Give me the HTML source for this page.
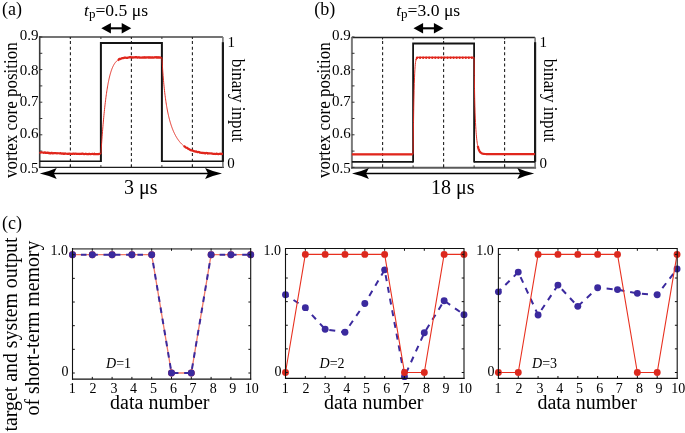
<!DOCTYPE html>
<html><head><meta charset="utf-8"><style>
html,body{margin:0;padding:0;background:#fff;width:685px;height:433px;overflow:hidden}
svg{display:block;will-change:transform}
text{fill:#000}
</style></head><body>
<svg width="685" height="433" viewBox="0 0 685 433">
<rect width="685" height="433" fill="#fff"/>
<path d="M39.7 37.0 H222.9" stroke="#747474" stroke-width="1.9" fill="none"/>
<path d="M39.7 36.1 V168.1" stroke="#3a3a3a" stroke-width="1.6" fill="none"/>
<path d="M39.0 167.4 H223.9" stroke="#1e1e1e" stroke-width="1.4" fill="none"/>
<path d="M222.9 37.0 V167.4" stroke="#777" stroke-width="1.6" fill="none"/>
<path d="M222.9 42.2 V161.8" stroke="#1a1a1a" stroke-width="2.2" fill="none"/>
<path d="M39.7 37.00 h2.6" stroke="#333" stroke-width="1"/>
<path d="M39.7 53.30 h2.6" stroke="#333" stroke-width="1"/>
<path d="M39.7 69.60 h2.6" stroke="#333" stroke-width="1"/>
<path d="M39.7 85.90 h2.6" stroke="#333" stroke-width="1"/>
<path d="M39.7 102.20 h2.6" stroke="#333" stroke-width="1"/>
<path d="M39.7 118.50 h2.6" stroke="#333" stroke-width="1"/>
<path d="M39.7 134.80 h2.6" stroke="#333" stroke-width="1"/>
<path d="M39.7 151.10 h2.6" stroke="#333" stroke-width="1"/>
<path d="M39.7 167.40 h2.6" stroke="#333" stroke-width="1"/>
<path d="M70.3 37.0 v2 M70.3 167.4 v-2.3" stroke="#333" stroke-width="1"/>
<path d="M100.9 37.0 v2 M100.9 167.4 v-2.3" stroke="#333" stroke-width="1"/>
<path d="M131.4 37.0 v2 M131.4 167.4 v-2.3" stroke="#333" stroke-width="1"/>
<path d="M161.9 37.0 v2 M161.9 167.4 v-2.3" stroke="#333" stroke-width="1"/>
<path d="M192.4 37.0 v2 M192.4 167.4 v-2.3" stroke="#333" stroke-width="1"/>
<path d="M70.4 37.0 V167.4" stroke="#222" stroke-width="1.1" stroke-dasharray="3 2.6" stroke-dashoffset="1.50"/>
<path d="M131.4 37.0 V167.4" stroke="#222" stroke-width="1.1" stroke-dasharray="3 2.6" stroke-dashoffset="1.50"/>
<path d="M192.4 37.0 V167.4" stroke="#222" stroke-width="1.1" stroke-dasharray="3 2.6" stroke-dashoffset="1.50"/>
<path d="M39.7 161.3 H100.9" stroke="#141414" stroke-width="1.6" fill="none"/>
<path d="M161.9 161.3 H222.9" stroke="#141414" stroke-width="1.6" fill="none"/>
<path d="M100.9 161.9 V43.0 H161.9 V161.9" stroke="#141414" stroke-width="2" fill="none" stroke-linejoin="miter"/>
<path d="M39.70 152.30 L40.70 152.39 L41.70 152.47 L42.70 152.55 L43.70 152.63 L44.70 152.70 L45.70 152.77 L46.70 152.83 L47.70 152.89 L48.70 152.95 L49.70 153.01 L50.70 153.06 L51.70 153.11 L52.70 153.16 L53.70 153.21 L54.70 153.25 L55.70 153.29 L56.70 153.33 L57.70 153.37 L58.70 153.40 L59.70 153.44 L60.70 153.47 L61.70 153.50 L62.70 153.53 L63.70 153.56 L64.70 153.58 L65.70 153.61 L66.70 153.63 L67.70 153.66 L68.70 153.68 L69.70 153.70 L70.70 153.72 L71.70 153.74 L72.70 153.75 L73.70 153.77 L74.70 153.79 L75.70 153.80 L76.70 153.82 L77.70 153.83 L78.70 153.84 L79.70 153.86 L80.70 153.87 L81.70 153.88 L82.70 153.89 L83.70 153.90 L84.70 153.91 L85.70 153.92 L86.70 153.93 L87.70 153.94 L88.70 153.94 L89.70 153.95 L90.70 153.96 L91.70 153.97 L92.70 153.97 L93.70 153.98 L94.70 153.98 L95.70 153.99 L96.70 154.00 L97.70 154.00 L98.70 154.01 L99.70 154.01 L100.70 154.01 L100.90 154.02 L100.90 154.02 L101.10 150.96 L101.30 147.98 L101.50 145.08 L101.70 142.24 L101.90 139.48 L102.10 136.79 L102.30 134.17 L102.50 131.62 L102.70 129.14 L102.90 126.72 L103.10 124.37 L103.30 122.08 L103.50 119.86 L103.70 117.69 L103.90 115.59 L104.10 113.55 L104.30 111.57 L104.50 109.64 L104.70 107.77 L104.90 105.96 L105.10 104.20 L105.30 102.49 L105.50 100.83 L105.70 99.23 L105.90 97.68 L106.10 96.17 L106.30 94.71 L106.50 93.30 L106.70 91.93 L106.90 90.61 L107.10 89.33 L107.30 88.09 L107.50 86.89 L107.70 85.73 L107.90 84.61 L108.10 83.53 L108.30 82.49 L108.50 81.48 L108.70 80.51 L108.90 79.57 L109.10 78.66 L109.30 77.79 L109.50 76.95 L109.70 76.14 L109.90 75.35 L110.10 74.60 L110.30 73.87 L110.50 73.17 L110.70 72.50 L110.90 71.85 L111.10 71.23 L111.30 70.63 L111.50 70.05 L111.70 69.50 L111.90 68.96 L112.10 68.45 L112.30 67.96 L112.50 67.49 L112.70 67.03 L112.90 66.60 L113.10 66.18 L113.30 65.78 L113.50 65.39 L113.70 65.02 L113.90 64.67 L114.10 64.33 L114.30 64.01 L114.50 63.70 L114.70 63.40 L114.90 63.11 L115.10 62.84 L115.30 62.58 L115.50 62.33 L115.70 62.09 L115.90 61.86 L116.10 61.64 L116.30 61.44 L116.50 61.24 L116.70 61.05 L116.90 60.87 L117.10 60.69 L117.30 60.53 L117.50 60.37 L117.70 60.22 L117.90 60.07 L118.10 59.94 L118.30 59.81 L118.50 59.68 L118.70 59.56 L118.90 59.45 L119.10 59.34 L119.30 59.24 L119.50 59.15 L119.70 59.05 L119.90 58.96 L120.10 58.88 L120.30 58.80 L120.50 58.73 L120.70 58.65 L120.90 58.59 L121.10 58.52 L121.30 58.46 L121.50 58.40 L121.70 58.35 L121.90 58.29 L122.10 58.24 L122.30 58.20 L122.50 58.15 L122.70 58.11 L122.90 58.07 L123.10 58.03 L123.30 58.00 L123.50 57.96 L123.70 57.93 L123.90 57.90 L124.10 57.87 L124.30 57.84 L124.50 57.82 L124.70 57.79 L124.90 57.77 L125.10 57.75 L125.30 57.73 L125.50 57.71 L125.70 57.69 L125.90 57.67 L126.10 57.66 L126.30 57.64 L126.50 57.63 L126.70 57.61 L126.90 57.60 L127.10 57.59 L127.30 57.57 L127.50 57.56 L127.70 57.55 L127.90 57.54 L128.10 57.54 L128.30 57.53 L128.50 57.52 L128.70 57.51 L128.90 57.50 L129.10 57.50 L129.30 57.49 L129.50 57.49 L129.70 57.48 L129.90 57.47 L130.10 57.47 L130.30 57.47 L130.50 57.46 L130.70 57.46 L130.90 57.45 L131.10 57.45 L131.30 57.45 L131.50 57.44 L131.70 57.44 L131.90 57.44 L132.10 57.44 L132.30 57.43 L132.50 57.43 L132.70 57.43 L132.90 57.43 L133.10 57.42 L133.30 57.42 L133.50 57.42 L133.70 57.42 L133.90 57.42 L134.10 57.42 L134.30 57.42 L134.50 57.42 L134.70 57.41 L134.90 57.41 L135.10 57.41 L135.30 57.41 L135.50 57.41 L135.70 57.41 L135.90 57.41 L136.10 57.41 L136.30 57.41 L136.50 57.41 L136.70 57.41 L136.90 57.41 L137.10 57.41 L137.30 57.41 L137.50 57.40 L137.70 57.40 L137.90 57.40 L138.10 57.40 L138.30 57.40 L138.50 57.40 L138.70 57.40 L138.90 57.40 L139.10 57.40 L139.30 57.40 L139.50 57.40 L139.70 57.40 L139.90 57.40 L140.10 57.40 L140.30 57.40 L140.50 57.40 L140.70 57.40 L140.90 57.40 L141.10 57.40 L141.30 57.40 L141.50 57.40 L141.70 57.40 L141.90 57.40 L142.10 57.40 L142.30 57.40 L142.50 57.40 L142.70 57.40 L142.90 57.40 L143.10 57.40 L143.30 57.40 L143.50 57.40 L143.70 57.40 L143.90 57.40 L144.10 57.40 L144.30 57.40 L144.50 57.40 L144.70 57.40 L144.90 57.40 L145.10 57.40 L145.30 57.40 L145.50 57.40 L145.70 57.40 L145.90 57.40 L146.10 57.40 L146.30 57.40 L146.50 57.40 L146.70 57.40 L146.90 57.40 L147.10 57.40 L147.30 57.40 L147.50 57.40 L147.70 57.40 L147.90 57.40 L148.10 57.40 L148.30 57.40 L148.50 57.40 L148.70 57.40 L148.90 57.40 L149.10 57.40 L149.30 57.40 L149.50 57.40 L149.70 57.40 L149.90 57.40 L150.10 57.40 L150.30 57.40 L150.50 57.40 L150.70 57.40 L150.90 57.40 L151.10 57.40 L151.30 57.40 L151.50 57.40 L151.70 57.40 L151.90 57.40 L152.10 57.40 L152.30 57.40 L152.50 57.40 L152.70 57.40 L152.90 57.40 L153.10 57.40 L153.30 57.40 L153.50 57.40 L153.70 57.40 L153.90 57.40 L154.10 57.40 L154.30 57.40 L154.50 57.40 L154.70 57.40 L154.90 57.40 L155.10 57.40 L155.30 57.40 L155.50 57.40 L155.70 57.40 L155.90 57.40 L156.10 57.40 L156.30 57.40 L156.50 57.40 L156.70 57.40 L156.90 57.40 L157.10 57.40 L157.30 57.40 L157.50 57.40 L157.70 57.40 L157.90 57.40 L158.10 57.40 L158.30 57.40 L158.50 57.40 L158.70 57.40 L158.90 57.40 L159.10 57.40 L159.30 57.40 L159.50 57.40 L159.70 57.40 L159.90 57.40 L160.10 57.40 L160.30 57.40 L160.50 57.40 L160.70 57.40 L160.90 57.40 L161.10 57.40 L161.30 57.40 L161.50 57.40 L161.70 57.40 L161.90 57.40 L161.90 57.40 L161.90 57.40 L162.10 60.86 L162.30 64.12 L162.50 67.21 L162.70 70.13 L162.90 72.89 L163.10 75.52 L163.30 78.01 L163.50 80.37 L163.70 82.62 L163.90 84.76 L164.10 86.80 L164.30 88.75 L164.50 90.60 L164.70 92.38 L164.90 94.08 L165.10 95.70 L165.30 97.26 L165.50 98.75 L165.70 100.18 L165.90 101.56 L166.10 102.89 L166.30 104.16 L166.50 105.39 L166.70 106.57 L166.90 107.71 L167.10 108.82 L167.30 109.88 L167.50 110.91 L167.70 111.91 L167.90 112.87 L168.10 113.81 L168.30 114.71 L168.50 115.59 L168.70 116.44 L168.90 117.27 L169.10 118.07 L169.30 118.85 L169.50 119.61 L169.70 120.35 L169.90 121.07 L170.10 121.77 L170.30 122.45 L170.50 123.12 L170.70 123.77 L170.90 124.40 L171.10 125.01 L171.30 125.61 L171.50 126.20 L171.70 126.77 L171.90 127.33 L172.10 127.88 L172.30 128.41 L172.50 128.93 L172.70 129.44 L172.90 129.93 L173.10 130.42 L173.30 130.90 L173.50 131.36 L173.70 131.82 L173.90 132.26 L174.10 132.70 L174.30 133.12 L174.50 133.54 L174.70 133.95 L174.90 134.35 L175.10 134.74 L175.30 135.12 L175.50 135.50 L175.70 135.86 L175.90 136.22 L176.10 136.57 L176.30 136.92 L176.50 137.26 L176.70 137.59 L176.90 137.91 L177.10 138.23 L177.30 138.54 L177.50 138.85 L177.70 139.14 L177.90 139.44 L178.10 139.72 L178.30 140.01 L178.50 140.28 L178.70 140.55 L178.90 140.82 L179.10 141.08 L179.30 141.33 L179.50 141.58 L179.70 141.82 L179.90 142.06 L180.10 142.30 L180.30 142.53 L180.50 142.75 L180.70 142.97 L180.90 143.19 L181.10 143.40 L181.30 143.61 L181.50 143.82 L181.70 144.02 L181.90 144.21 L182.10 144.40 L182.30 144.59 L182.50 144.78 L182.70 144.96 L182.90 145.14 L183.10 145.31 L183.30 145.48 L183.50 145.65 L183.70 145.81 L183.90 145.98 L184.10 146.13 L184.30 146.29 L184.50 146.44 L184.70 146.59 L184.90 146.73 L185.10 146.88 L185.30 147.02 L185.50 147.16 L185.70 147.29 L185.90 147.42 L186.10 147.55 L186.30 147.68 L186.50 147.80 L186.70 147.93 L186.90 148.05 L187.10 148.16 L187.30 148.28 L187.50 148.39 L187.70 148.50 L187.90 148.61 L188.10 148.72 L188.30 148.82 L188.50 148.93 L188.70 149.03 L188.90 149.12 L189.10 149.22 L189.30 149.32 L189.50 149.41 L189.70 149.50 L189.90 149.59 L190.10 149.68 L190.30 149.76 L190.50 149.85 L190.70 149.93 L190.90 150.01 L191.10 150.09 L191.30 150.17 L191.50 150.24 L191.70 150.32 L191.90 150.39 L192.10 150.46 L192.30 150.54 L192.50 150.60 L192.70 150.67 L192.90 150.74 L193.10 150.80 L193.30 150.87 L193.50 150.93 L193.70 150.99 L193.90 151.05 L194.10 151.11 L194.30 151.17 L194.50 151.23 L194.70 151.28 L194.90 151.34 L195.10 151.39 L195.30 151.44 L195.50 151.50 L195.70 151.55 L195.90 151.60 L196.10 151.64 L196.30 151.69 L196.50 151.74 L196.70 151.78 L196.90 151.83 L197.10 151.87 L197.30 151.92 L197.50 151.96 L197.70 152.00 L197.90 152.04 L198.10 152.08 L198.30 152.12 L198.50 152.16 L198.70 152.20 L198.90 152.23 L199.10 152.27 L199.30 152.31 L199.50 152.34 L199.70 152.37 L199.90 152.41 L200.10 152.44 L200.30 152.47 L200.50 152.50 L200.70 152.54 L200.90 152.57 L201.10 152.60 L201.30 152.62 L201.50 152.65 L201.70 152.68 L201.90 152.71 L202.10 152.74 L202.30 152.76 L202.50 152.79 L202.70 152.81 L202.90 152.84 L203.10 152.86 L203.30 152.89 L203.50 152.91 L203.70 152.93 L203.90 152.96 L204.10 152.98 L204.30 153.00 L204.50 153.02 L204.70 153.04 L204.90 153.06 L205.10 153.08 L205.30 153.10 L205.50 153.12 L205.70 153.14 L205.90 153.16 L206.10 153.18 L206.30 153.20 L206.50 153.21 L206.70 153.23 L206.90 153.25 L207.10 153.26 L207.30 153.28 L207.50 153.30 L207.70 153.31 L207.90 153.33 L208.10 153.34 L208.30 153.36 L208.50 153.37 L208.70 153.39 L208.90 153.40 L209.10 153.41 L209.30 153.43 L209.50 153.44 L209.70 153.45 L209.90 153.47 L210.10 153.48 L210.30 153.49 L210.50 153.50 L210.70 153.51 L210.90 153.52 L211.10 153.54 L211.30 153.55 L211.50 153.56 L211.70 153.57 L211.90 153.58 L212.10 153.59 L212.30 153.60 L212.50 153.61 L212.70 153.62 L212.90 153.63 L213.10 153.64 L213.30 153.65 L213.50 153.65 L213.70 153.66 L213.90 153.67 L214.10 153.68 L214.30 153.69 L214.50 153.70 L214.70 153.70 L214.90 153.71 L215.10 153.72 L215.30 153.73 L215.50 153.73 L215.70 153.74 L215.90 153.75 L216.10 153.75 L216.30 153.76 L216.50 153.77 L216.70 153.77 L216.90 153.78 L217.10 153.79 L217.30 153.79 L217.50 153.80 L217.70 153.80 L217.90 153.81 L218.10 153.82 L218.30 153.82 L218.50 153.83 L218.70 153.83 L218.90 153.84 L219.10 153.84 L219.30 153.85 L219.50 153.85 L219.70 153.86 L219.90 153.86 L220.10 153.87 L220.30 153.87 L220.50 153.88 L220.70 153.88 L220.90 153.88 L221.10 153.89 L221.30 153.89 L221.50 153.90 L221.70 153.90 L221.90 153.90 L222.10 153.91 L222.30 153.91 L222.50 153.92 L222.70 153.92 L222.90 153.92 L222.90 153.92" stroke="#e0261c" stroke-width="0.95" fill="none" stroke-linejoin="round"/>
<path d="M39.70 152.08 L40.30 152.56 L40.90 152.56 L41.50 152.31 L42.10 152.50 L42.70 152.52 L43.30 152.69 L43.90 152.81 L44.50 152.44 L45.10 152.44 L45.70 152.97 L46.30 152.77 L46.90 153.00 L47.50 152.58 L48.10 152.88 L48.70 153.09 L49.30 152.82 L49.90 153.29 L50.50 153.29 L51.10 152.80 L51.70 152.83 L52.30 153.17 L52.90 153.43 L53.50 153.13 L54.10 153.05 L54.70 153.20 L55.30 152.99 L55.90 153.13 L56.50 153.29 L57.10 153.34 L57.70 153.21 L58.30 153.23 L58.90 153.24 L59.50 153.41 L60.10 153.32 L60.70 153.18 L61.30 153.69 L61.90 153.54 L62.50 153.61 L63.10 153.35 L63.70 153.85 L64.30 153.79 L64.90 153.36 L65.50 153.50 L66.10 153.75 L66.70 153.76 L67.30 153.91 L67.90 153.61 L68.50 153.87 L69.10 153.79 L69.70 153.58 L70.30 153.76 L70.90 153.95 L71.50 153.94 L72.10 153.75 L72.70 153.81 L73.30 153.49 L73.90 153.62 L74.50 153.96 L75.10 153.74 L75.70 153.61 L76.30 153.84 L76.90 153.94 L77.50 153.93 L78.10 153.76 L78.70 153.81 L79.30 153.86 L79.90 154.03 L80.50 153.88 L81.10 153.81 L81.70 153.87 L82.30 153.60 L82.90 153.62 L83.50 154.02 L84.10 154.19 L84.70 153.97 L85.30 153.85 L85.90 153.72 L86.50 153.93 L87.10 154.22 L87.70 154.10 L88.30 153.97 L88.90 154.16 L89.50 153.79 L90.10 153.96 L90.70 154.23 L91.30 154.01 L91.90 153.94 L92.50 153.83 L93.10 154.00 L93.70 154.25 L94.30 153.69 L94.90 154.16 L95.50 154.18 L96.10 154.22 L96.70 154.14 L97.30 154.18 L97.90 154.01 L98.50 154.04 L99.10 153.96 L99.70 153.74 L100.30 154.24" stroke="#e0261c" stroke-width="2.2" fill="none" stroke-linejoin="round"/>
<path d="M117.90 60.35 L118.50 59.95 L119.10 59.08 L119.70 58.80 L120.30 59.00 L120.90 58.73 L121.50 58.50 L122.10 58.13 L122.70 58.17 L123.30 58.06 L123.90 57.95 L124.50 57.61 L125.10 57.71 L125.70 57.62 L126.30 57.77 L126.90 57.90 L127.50 57.83 L128.10 57.56 L128.70 57.48 L129.30 57.35 L129.90 57.20 L130.50 57.18 L131.10 57.43 L131.70 57.33 L132.30 57.36 L132.90 57.66 L133.50 57.44 L134.10 57.45 L134.70 57.26 L135.30 57.13 L135.90 57.30 L136.50 57.19 L137.10 57.41 L137.70 57.70 L138.30 57.51 L138.90 57.21 L139.50 57.64 L140.10 57.58 L140.70 57.54 L141.30 57.65 L141.90 57.56 L142.50 57.57 L143.10 57.31 L143.70 57.69 L144.30 57.68 L144.90 57.20 L145.50 57.55 L146.10 57.53 L146.70 57.38 L147.30 57.42 L147.90 57.39 L148.50 57.65 L149.10 57.40 L149.70 57.60 L150.30 57.31 L150.90 57.63 L151.50 57.64 L152.10 57.38 L152.70 57.44 L153.30 57.65 L153.90 57.53 L154.50 57.39 L155.10 57.23 L155.70 57.29 L156.30 57.52 L156.90 57.20 L157.50 57.64 L158.10 57.26 L158.70 57.65 L159.30 57.29 L159.90 57.67 L160.50 57.52 L161.10 57.40" stroke="#e0261c" stroke-width="2.3" fill="none" stroke-linejoin="round"/>
<path d="M183.90 145.82 L184.50 146.47 L185.10 146.80 L185.70 147.35 L186.30 147.76 L186.90 147.79 L187.50 148.10 L188.10 148.92 L188.70 148.88 L189.30 149.16 L189.90 149.89 L190.50 149.83 L191.10 150.29 L191.70 150.31 L192.30 150.62 L192.90 150.53 L193.50 151.01 L194.10 151.33 L194.70 151.30 L195.30 151.59 L195.90 151.70 L196.50 151.48 L197.10 152.03 L197.70 152.06 L198.30 152.00 L198.90 151.95 L199.50 152.56 L200.10 152.42 L200.70 152.67 L201.30 152.85 L201.90 152.84 L202.50 153.04 L203.10 152.80 L203.70 153.11 L204.30 152.97 L204.90 153.32 L205.50 153.35 L206.10 152.94 L206.70 153.01 L207.30 153.11 L207.90 153.61 L208.50 153.33 L209.10 153.49 L209.70 153.33 L210.30 153.49 L210.90 153.46 L211.50 153.47 L212.10 153.64 L212.70 153.67 L213.30 153.89 L213.90 153.78 L214.50 153.95 L215.10 153.93 L215.70 154.04 L216.30 153.86 L216.90 153.58 L217.50 154.02 L218.10 154.09 L218.70 154.07 L219.30 153.89 L219.90 153.99 L220.50 153.70 L221.10 154.09 L221.70 153.94 L222.30 153.78 L222.90 153.66" stroke="#e0261c" stroke-width="2.2" fill="none" stroke-linejoin="round"/>
<text x="38.6" y="40.4" font-size="15" text-anchor="end" font-family="Liberation Serif">0.9</text>
<text x="38.6" y="74.6" font-size="15" text-anchor="end" font-family="Liberation Serif">0.8</text>
<text x="38.6" y="105.6" font-size="15" text-anchor="end" font-family="Liberation Serif">0.7</text>
<text x="38.6" y="137.8" font-size="15" text-anchor="end" font-family="Liberation Serif">0.6</text>
<text x="38.6" y="173.4" font-size="15" text-anchor="end" font-family="Liberation Serif">0.5</text>
<text x="227.4" y="46.6" font-size="15" font-family="Liberation Serif">1</text>
<text x="227.2" y="167.6" font-size="15" font-family="Liberation Serif">0</text>
<text transform="translate(17.4 110.2) rotate(-90) scale(0.85 0.93)" text-anchor="middle" font-size="20" font-family="Liberation Serif">vortex core position</text>
<text transform="translate(231.6 100.4) rotate(90) scale(0.855 0.93)" text-anchor="middle" font-size="20" font-family="Liberation Serif">binary input</text>
<text x="2.0" y="15" font-size="18" font-family="Liberation Serif">(a)</text>
<text x="84.0" y="16.2" font-size="17.6" font-family="Liberation Serif"><tspan font-style="italic">t</tspan><tspan font-size="13" dy="2.0">p</tspan><tspan dy="-2.0">=0.5 μs</tspan></text>
<path d="M101.3 28.3 L110.89999999999999 23.0 V33.6 Z M131.3 28.3 L121.70000000000002 23.0 V33.6 Z" fill="#000"/>
<path d="M110.3 28.3 H122.30000000000001" stroke="#000" stroke-width="2.1"/>
<path d="M39.800000000000004 173.45 Q49.800000000000004 171.14999999999998 56.7 167.95 L53.800000000000004 173.45 L56.7 178.95 Q49.800000000000004 175.75 39.800000000000004 173.45 Z" fill="#000"/>
<path d="M222.0 173.45 Q212.0 171.14999999999998 205.1 167.95 L208.0 173.45 L205.1 178.95 Q212.0 175.75 222.0 173.45 Z" fill="#000"/>
<path d="M51.800000000000004 173.45 H210.0" stroke="#000" stroke-width="1.6"/>
<text x="124.0" y="194.1" font-size="20" font-family="Liberation Serif">3 μs</text>
<path d="M351.9 37.5 H535.1" stroke="#222" stroke-width="1.3" fill="none"/>
<path d="M351.9 36.9 V168.6" stroke="#7a7a7a" stroke-width="2" fill="none"/>
<path d="M351.0 167.7 H536.1" stroke="#5a5a5a" stroke-width="2" fill="none"/>
<path d="M535.1 37.5 V167.7" stroke="#777" stroke-width="1.6" fill="none"/>
<path d="M535.1 42.2 V161.8" stroke="#1a1a1a" stroke-width="2.2" fill="none"/>
<path d="M351.9 37.00 h2.6" stroke="#333" stroke-width="1"/>
<path d="M351.9 53.30 h2.6" stroke="#333" stroke-width="1"/>
<path d="M351.9 69.60 h2.6" stroke="#333" stroke-width="1"/>
<path d="M351.9 85.90 h2.6" stroke="#333" stroke-width="1"/>
<path d="M351.9 102.20 h2.6" stroke="#333" stroke-width="1"/>
<path d="M351.9 118.50 h2.6" stroke="#333" stroke-width="1"/>
<path d="M351.9 134.80 h2.6" stroke="#333" stroke-width="1"/>
<path d="M351.9 151.10 h2.6" stroke="#333" stroke-width="1"/>
<path d="M351.9 167.40 h2.6" stroke="#333" stroke-width="1"/>
<path d="M382.5 37.5 v2 M382.5 167.7 v-2.3" stroke="#333" stroke-width="1"/>
<path d="M413.1 37.5 v2 M413.1 167.7 v-2.3" stroke="#333" stroke-width="1"/>
<path d="M443.6 37.5 v2 M443.6 167.7 v-2.3" stroke="#333" stroke-width="1"/>
<path d="M474.1 37.5 v2 M474.1 167.7 v-2.3" stroke="#333" stroke-width="1"/>
<path d="M504.6 37.5 v2 M504.6 167.7 v-2.3" stroke="#333" stroke-width="1"/>
<path d="M382.6 37.5 V167.7" stroke="#222" stroke-width="1.1" stroke-dasharray="3 2.6" stroke-dashoffset="2.00"/>
<path d="M443.6 37.5 V167.7" stroke="#222" stroke-width="1.1" stroke-dasharray="3 2.6" stroke-dashoffset="2.00"/>
<path d="M504.6 37.5 V167.7" stroke="#222" stroke-width="1.1" stroke-dasharray="3 2.6" stroke-dashoffset="2.00"/>
<path d="M351.9 161.9 H413.1" stroke="#141414" stroke-width="1.6" fill="none"/>
<path d="M474.1 161.9 H535.1" stroke="#141414" stroke-width="1.6" fill="none"/>
<path d="M413.1 162.5 V43.5 H474.1 V162.5" stroke="#141414" stroke-width="1.8" fill="none" stroke-linejoin="miter"/>
<path d="M351.90 154.30 L352.90 154.30 L353.90 154.30 L354.90 154.30 L355.90 154.30 L356.90 154.30 L357.90 154.30 L358.90 154.30 L359.90 154.30 L360.90 154.30 L361.90 154.30 L362.90 154.30 L363.90 154.30 L364.90 154.30 L365.90 154.30 L366.90 154.30 L367.90 154.30 L368.90 154.30 L369.90 154.30 L370.90 154.30 L371.90 154.30 L372.90 154.30 L373.90 154.30 L374.90 154.30 L375.90 154.30 L376.90 154.30 L377.90 154.30 L378.90 154.30 L379.90 154.30 L380.90 154.30 L381.90 154.30 L382.90 154.30 L383.90 154.30 L384.90 154.30 L385.90 154.30 L386.90 154.30 L387.90 154.30 L388.90 154.30 L389.90 154.30 L390.90 154.30 L391.90 154.30 L392.90 154.30 L393.90 154.30 L394.90 154.30 L395.90 154.30 L396.90 154.30 L397.90 154.30 L398.90 154.30 L399.90 154.30 L400.90 154.30 L401.90 154.30 L402.90 154.30 L403.90 154.30 L404.90 154.30 L405.90 154.30 L406.90 154.30 L407.90 154.30 L408.90 154.30 L409.90 154.30 L410.90 154.30 L411.90 154.30 L412.90 154.30 L413.10 154.30 L413.10 154.30 L413.30 137.03 L413.50 122.27 L413.70 109.79 L413.90 99.35 L414.10 90.70 L414.30 83.61 L414.50 77.85 L414.70 73.22 L414.90 69.53 L415.10 66.62 L415.30 64.35 L415.50 62.59 L415.70 61.25 L415.90 60.23 L416.10 59.46 L416.30 58.89 L416.50 58.46 L416.70 58.15 L416.90 57.93 L417.10 57.77 L417.30 57.66 L417.50 57.58 L417.70 57.52 L417.90 57.48 L418.10 57.45 L418.30 57.44 L418.50 57.42 L418.70 57.42 L418.90 57.41 L419.10 57.41 L419.30 57.40 L419.50 57.40 L419.70 57.40 L419.90 57.40 L420.10 57.40 L420.30 57.40 L420.50 57.40 L420.70 57.40 L420.90 57.40 L421.10 57.40 L421.30 57.40 L421.50 57.40 L421.70 57.40 L421.90 57.40 L422.10 57.40 L422.30 57.40 L422.50 57.40 L422.70 57.40 L422.90 57.40 L423.10 57.40 L423.30 57.40 L423.50 57.40 L423.70 57.40 L423.90 57.40 L424.10 57.40 L424.30 57.40 L424.50 57.40 L424.70 57.40 L424.90 57.40 L425.10 57.40 L425.30 57.40 L425.50 57.40 L425.70 57.40 L425.90 57.40 L426.10 57.40 L426.30 57.40 L426.50 57.40 L426.70 57.40 L426.90 57.40 L427.10 57.40 L427.30 57.40 L427.50 57.40 L427.70 57.40 L427.90 57.40 L428.10 57.40 L428.30 57.40 L428.50 57.40 L428.70 57.40 L428.90 57.40 L429.10 57.40 L429.30 57.40 L429.50 57.40 L429.70 57.40 L429.90 57.40 L430.10 57.40 L430.30 57.40 L430.50 57.40 L430.70 57.40 L430.90 57.40 L431.10 57.40 L431.30 57.40 L431.50 57.40 L431.70 57.40 L431.90 57.40 L432.10 57.40 L432.30 57.40 L432.50 57.40 L432.70 57.40 L432.90 57.40 L433.10 57.40 L433.30 57.40 L433.50 57.40 L433.70 57.40 L433.90 57.40 L434.10 57.40 L434.30 57.40 L434.50 57.40 L434.70 57.40 L434.90 57.40 L435.10 57.40 L435.30 57.40 L435.50 57.40 L435.70 57.40 L435.90 57.40 L436.10 57.40 L436.30 57.40 L436.50 57.40 L436.70 57.40 L436.90 57.40 L437.10 57.40 L437.30 57.40 L437.50 57.40 L437.70 57.40 L437.90 57.40 L438.10 57.40 L438.30 57.40 L438.50 57.40 L438.70 57.40 L438.90 57.40 L439.10 57.40 L439.30 57.40 L439.50 57.40 L439.70 57.40 L439.90 57.40 L440.10 57.40 L440.30 57.40 L440.50 57.40 L440.70 57.40 L440.90 57.40 L441.10 57.40 L441.30 57.40 L441.50 57.40 L441.70 57.40 L441.90 57.40 L442.10 57.40 L442.30 57.40 L442.50 57.40 L442.70 57.40 L442.90 57.40 L443.10 57.40 L443.30 57.40 L443.50 57.40 L443.70 57.40 L443.90 57.40 L444.10 57.40 L444.30 57.40 L444.50 57.40 L444.70 57.40 L444.90 57.40 L445.10 57.40 L445.30 57.40 L445.50 57.40 L445.70 57.40 L445.90 57.40 L446.10 57.40 L446.30 57.40 L446.50 57.40 L446.70 57.40 L446.90 57.40 L447.10 57.40 L447.30 57.40 L447.50 57.40 L447.70 57.40 L447.90 57.40 L448.10 57.40 L448.30 57.40 L448.50 57.40 L448.70 57.40 L448.90 57.40 L449.10 57.40 L449.30 57.40 L449.50 57.40 L449.70 57.40 L449.90 57.40 L450.10 57.40 L450.30 57.40 L450.50 57.40 L450.70 57.40 L450.90 57.40 L451.10 57.40 L451.30 57.40 L451.50 57.40 L451.70 57.40 L451.90 57.40 L452.10 57.40 L452.30 57.40 L452.50 57.40 L452.70 57.40 L452.90 57.40 L453.10 57.40 L453.30 57.40 L453.50 57.40 L453.70 57.40 L453.90 57.40 L454.10 57.40 L454.30 57.40 L454.50 57.40 L454.70 57.40 L454.90 57.40 L455.10 57.40 L455.30 57.40 L455.50 57.40 L455.70 57.40 L455.90 57.40 L456.10 57.40 L456.30 57.40 L456.50 57.40 L456.70 57.40 L456.90 57.40 L457.10 57.40 L457.30 57.40 L457.50 57.40 L457.70 57.40 L457.90 57.40 L458.10 57.40 L458.30 57.40 L458.50 57.40 L458.70 57.40 L458.90 57.40 L459.10 57.40 L459.30 57.40 L459.50 57.40 L459.70 57.40 L459.90 57.40 L460.10 57.40 L460.30 57.40 L460.50 57.40 L460.70 57.40 L460.90 57.40 L461.10 57.40 L461.30 57.40 L461.50 57.40 L461.70 57.40 L461.90 57.40 L462.10 57.40 L462.30 57.40 L462.50 57.40 L462.70 57.40 L462.90 57.40 L463.10 57.40 L463.30 57.40 L463.50 57.40 L463.70 57.40 L463.90 57.40 L464.10 57.40 L464.30 57.40 L464.50 57.40 L464.70 57.40 L464.90 57.40 L465.10 57.40 L465.30 57.40 L465.50 57.40 L465.70 57.40 L465.90 57.40 L466.10 57.40 L466.30 57.40 L466.50 57.40 L466.70 57.40 L466.90 57.40 L467.10 57.40 L467.30 57.40 L467.50 57.40 L467.70 57.40 L467.90 57.40 L468.10 57.40 L468.30 57.40 L468.50 57.40 L468.70 57.40 L468.90 57.40 L469.10 57.40 L469.30 57.40 L469.50 57.40 L469.70 57.40 L469.90 57.40 L470.10 57.40 L470.30 57.40 L470.50 57.40 L470.70 57.40 L470.90 57.40 L471.10 57.40 L471.30 57.40 L471.50 57.40 L471.70 57.40 L471.90 57.40 L472.10 57.40 L472.30 57.40 L472.50 57.40 L472.70 57.40 L472.90 57.40 L473.10 57.40 L473.30 57.40 L473.50 57.40 L473.70 57.40 L473.90 57.40 L474.10 57.40 L474.10 57.40 L474.10 57.40 L474.30 75.52 L474.50 88.75 L474.70 98.75 L474.90 106.57 L475.10 112.87 L475.30 118.07 L475.50 122.45 L475.70 126.20 L475.90 129.44 L476.10 132.26 L476.30 134.74 L476.50 136.92 L476.70 138.85 L476.90 140.55 L477.10 142.06 L477.30 143.40 L477.50 144.59 L477.70 145.65 L477.90 146.59 L478.10 147.42 L478.30 148.16 L478.50 148.82 L478.70 149.41 L478.90 149.93 L479.10 150.39 L479.30 150.80 L479.50 151.17 L479.70 151.50 L479.90 151.78 L480.10 152.04 L480.30 152.27 L480.50 152.47 L480.70 152.65 L480.90 152.81 L481.10 152.96 L481.30 153.08 L481.50 153.20 L481.70 153.30 L481.90 153.39 L482.10 153.47 L482.30 153.54 L482.50 153.60 L482.70 153.65 L482.90 153.70 L483.10 153.75 L483.30 153.79 L483.50 153.82 L483.70 153.85 L483.90 153.88 L484.10 153.90 L484.30 153.93 L484.50 153.95 L484.70 153.96 L484.90 153.98 L485.10 153.99 L485.30 154.00 L485.50 154.01 L485.70 154.02 L485.90 154.03 L486.10 154.04 L486.30 154.05 L486.50 154.05 L486.70 154.06 L486.90 154.06 L487.10 154.07 L487.30 154.07 L487.50 154.07 L487.70 154.08 L487.90 154.08 L488.10 154.08 L488.30 154.08 L488.50 154.09 L488.70 154.09 L488.90 154.09 L489.10 154.09 L489.30 154.09 L489.50 154.09 L489.70 154.09 L489.90 154.09 L490.10 154.09 L490.30 154.09 L490.50 154.10 L490.70 154.10 L490.90 154.10 L491.10 154.10 L491.30 154.10 L491.50 154.10 L491.70 154.10 L491.90 154.10 L492.10 154.10 L492.30 154.10 L492.50 154.10 L492.70 154.10 L492.90 154.10 L493.10 154.10 L493.30 154.10 L493.50 154.10 L493.70 154.10 L493.90 154.10 L494.10 154.10 L494.30 154.10 L494.50 154.10 L494.70 154.10 L494.90 154.10 L495.10 154.10 L495.30 154.10 L495.50 154.10 L495.70 154.10 L495.90 154.10 L496.10 154.10 L496.30 154.10 L496.50 154.10 L496.70 154.10 L496.90 154.10 L497.10 154.10 L497.30 154.10 L497.50 154.10 L497.70 154.10 L497.90 154.10 L498.10 154.10 L498.30 154.10 L498.50 154.10 L498.70 154.10 L498.90 154.10 L499.10 154.10 L499.30 154.10 L499.50 154.10 L499.70 154.10 L499.90 154.10 L500.10 154.10 L500.30 154.10 L500.50 154.10 L500.70 154.10 L500.90 154.10 L501.10 154.10 L501.30 154.10 L501.50 154.10 L501.70 154.10 L501.90 154.10 L502.10 154.10 L502.30 154.10 L502.50 154.10 L502.70 154.10 L502.90 154.10 L503.10 154.10 L503.30 154.10 L503.50 154.10 L503.70 154.10 L503.90 154.10 L504.10 154.10 L504.30 154.10 L504.50 154.10 L504.70 154.10 L504.90 154.10 L505.10 154.10 L505.30 154.10 L505.50 154.10 L505.70 154.10 L505.90 154.10 L506.10 154.10 L506.30 154.10 L506.50 154.10 L506.70 154.10 L506.90 154.10 L507.10 154.10 L507.30 154.10 L507.50 154.10 L507.70 154.10 L507.90 154.10 L508.10 154.10 L508.30 154.10 L508.50 154.10 L508.70 154.10 L508.90 154.10 L509.10 154.10 L509.30 154.10 L509.50 154.10 L509.70 154.10 L509.90 154.10 L510.10 154.10 L510.30 154.10 L510.50 154.10 L510.70 154.10 L510.90 154.10 L511.10 154.10 L511.30 154.10 L511.50 154.10 L511.70 154.10 L511.90 154.10 L512.10 154.10 L512.30 154.10 L512.50 154.10 L512.70 154.10 L512.90 154.10 L513.10 154.10 L513.30 154.10 L513.50 154.10 L513.70 154.10 L513.90 154.10 L514.10 154.10 L514.30 154.10 L514.50 154.10 L514.70 154.10 L514.90 154.10 L515.10 154.10 L515.30 154.10 L515.50 154.10 L515.70 154.10 L515.90 154.10 L516.10 154.10 L516.30 154.10 L516.50 154.10 L516.70 154.10 L516.90 154.10 L517.10 154.10 L517.30 154.10 L517.50 154.10 L517.70 154.10 L517.90 154.10 L518.10 154.10 L518.30 154.10 L518.50 154.10 L518.70 154.10 L518.90 154.10 L519.10 154.10 L519.30 154.10 L519.50 154.10 L519.70 154.10 L519.90 154.10 L520.10 154.10 L520.30 154.10 L520.50 154.10 L520.70 154.10 L520.90 154.10 L521.10 154.10 L521.30 154.10 L521.50 154.10 L521.70 154.10 L521.90 154.10 L522.10 154.10 L522.30 154.10 L522.50 154.10 L522.70 154.10 L522.90 154.10 L523.10 154.10 L523.30 154.10 L523.50 154.10 L523.70 154.10 L523.90 154.10 L524.10 154.10 L524.30 154.10 L524.50 154.10 L524.70 154.10 L524.90 154.10 L525.10 154.10 L525.30 154.10 L525.50 154.10 L525.70 154.10 L525.90 154.10 L526.10 154.10 L526.30 154.10 L526.50 154.10 L526.70 154.10 L526.90 154.10 L527.10 154.10 L527.30 154.10 L527.50 154.10 L527.70 154.10 L527.90 154.10 L528.10 154.10 L528.30 154.10 L528.50 154.10 L528.70 154.10 L528.90 154.10 L529.10 154.10 L529.30 154.10 L529.50 154.10 L529.70 154.10 L529.90 154.10 L530.10 154.10 L530.30 154.10 L530.50 154.10 L530.70 154.10 L530.90 154.10 L531.10 154.10 L531.30 154.10 L531.50 154.10 L531.70 154.10 L531.90 154.10 L532.10 154.10 L532.30 154.10 L532.50 154.10 L532.70 154.10 L532.90 154.10 L533.10 154.10 L533.30 154.10 L533.50 154.10 L533.70 154.10 L533.90 154.10 L534.10 154.10 L534.30 154.10 L534.50 154.10 L534.70 154.10 L534.90 154.10 L535.10 154.10" stroke="#e0261c" stroke-width="0.95" fill="none" stroke-linejoin="round"/>
<path d="M351.90 154.30 L352.50 154.30 L353.10 154.30 L353.70 154.30 L354.30 154.30 L354.90 154.30 L355.50 154.30 L356.10 154.30 L356.70 154.30 L357.30 154.30 L357.90 154.30 L358.50 154.30 L359.10 154.30 L359.70 154.30 L360.30 154.30 L360.90 154.30 L361.50 154.30 L362.10 154.30 L362.70 154.30 L363.30 154.30 L363.90 154.30 L364.50 154.30 L365.10 154.30 L365.70 154.30 L366.30 154.30 L366.90 154.30 L367.50 154.30 L368.10 154.30 L368.70 154.30 L369.30 154.30 L369.90 154.30 L370.50 154.30 L371.10 154.30 L371.70 154.30 L372.30 154.30 L372.90 154.30 L373.50 154.30 L374.10 154.30 L374.70 154.30 L375.30 154.30 L375.90 154.30 L376.50 154.30 L377.10 154.30 L377.70 154.30 L378.30 154.30 L378.90 154.30 L379.50 154.30 L380.10 154.30 L380.70 154.30 L381.30 154.30 L381.90 154.30 L382.50 154.30 L383.10 154.30 L383.70 154.30 L384.30 154.30 L384.90 154.30 L385.50 154.30 L386.10 154.30 L386.70 154.30 L387.30 154.30 L387.90 154.30 L388.50 154.30 L389.10 154.30 L389.70 154.30 L390.30 154.30 L390.90 154.30 L391.50 154.30 L392.10 154.30 L392.70 154.30 L393.30 154.30 L393.90 154.30 L394.50 154.30 L395.10 154.30 L395.70 154.30 L396.30 154.30 L396.90 154.30 L397.50 154.30 L398.10 154.30 L398.70 154.30 L399.30 154.30 L399.90 154.30 L400.50 154.30 L401.10 154.30 L401.70 154.30 L402.30 154.30 L402.90 154.30 L403.50 154.30 L404.10 154.30 L404.70 154.30 L405.30 154.30 L405.90 154.30 L406.50 154.30 L407.10 154.30 L407.70 154.30 L408.30 154.30 L408.90 154.30 L409.50 154.30 L410.10 154.30 L410.70 154.30 L411.30 154.30 L411.90 154.30 L412.50 154.30" stroke="#e0261c" stroke-width="2.2" fill="none" stroke-linejoin="round"/>
<path d="M415.93 60.08 L416.53 58.40 L417.13 57.75 L417.73 57.51 L418.33 57.43 L418.93 57.41 L419.53 57.40 L420.13 57.40 L420.73 57.40 L421.33 57.40 L421.93 57.40 L422.53 57.40 L423.13 57.40 L423.73 57.40 L424.33 57.40 L424.93 57.40 L425.53 57.40 L426.13 57.40 L426.73 57.40 L427.33 57.40 L427.93 57.40 L428.53 57.40 L429.13 57.40 L429.73 57.40 L430.33 57.40 L430.93 57.40 L431.53 57.40 L432.13 57.40 L432.73 57.40 L433.33 57.40 L433.93 57.40 L434.53 57.40 L435.13 57.40 L435.73 57.40 L436.33 57.40 L436.93 57.40 L437.53 57.40 L438.13 57.40 L438.73 57.40 L439.33 57.40 L439.93 57.40 L440.53 57.40 L441.13 57.40 L441.73 57.40 L442.33 57.40 L442.93 57.40 L443.53 57.40 L444.13 57.40 L444.73 57.40 L445.33 57.40 L445.93 57.40 L446.53 57.40 L447.13 57.40 L447.73 57.40 L448.33 57.40 L448.93 57.40 L449.53 57.40 L450.13 57.40 L450.73 57.40 L451.33 57.40 L451.93 57.40 L452.53 57.40 L453.13 57.40 L453.73 57.40 L454.33 57.40 L454.93 57.40 L455.53 57.40 L456.13 57.40 L456.73 57.40 L457.33 57.40 L457.93 57.40 L458.53 57.40 L459.13 57.40 L459.73 57.40 L460.33 57.40 L460.93 57.40 L461.53 57.40 L462.13 57.40 L462.73 57.40 L463.33 57.40 L463.93 57.40 L464.53 57.40 L465.13 57.40 L465.73 57.40 L466.33 57.40 L466.93 57.40 L467.53 57.40 L468.13 57.40 L468.73 57.40 L469.33 57.40 L469.93 57.40 L470.53 57.40 L471.13 57.40 L471.73 57.40 L472.33 57.40 L472.93 57.40 L473.53 57.40" stroke="#e0261c" stroke-width="1.3" fill="none" stroke-linejoin="round"/>
<path d="M477.77 145.98 L478.37 148.39 L478.97 150.09 L479.57 151.28 L480.17 152.12 L480.77 152.71 L481.37 153.12 L481.97 153.41 L482.57 153.62 L483.17 153.76 L483.77 153.86 L484.37 153.93 L484.97 153.98 L485.57 154.02 L486.17 154.04 L486.77 154.06 L487.37 154.07 L487.97 154.08 L488.57 154.09 L489.17 154.09 L489.77 154.09 L490.37 154.10 L490.97 154.10 L491.57 154.10 L492.17 154.10 L492.77 154.10 L493.37 154.10 L493.97 154.10 L494.57 154.10 L495.17 154.10 L495.77 154.10 L496.37 154.10 L496.97 154.10 L497.57 154.10 L498.17 154.10 L498.77 154.10 L499.37 154.10 L499.97 154.10 L500.57 154.10 L501.17 154.10 L501.77 154.10 L502.37 154.10 L502.97 154.10 L503.57 154.10 L504.17 154.10 L504.77 154.10 L505.37 154.10 L505.97 154.10 L506.57 154.10 L507.17 154.10 L507.77 154.10 L508.37 154.10 L508.97 154.10 L509.57 154.10 L510.17 154.10 L510.77 154.10 L511.37 154.10 L511.97 154.10 L512.57 154.10 L513.17 154.10 L513.77 154.10 L514.37 154.10 L514.97 154.10 L515.57 154.10 L516.17 154.10 L516.77 154.10 L517.37 154.10 L517.97 154.10 L518.57 154.10 L519.17 154.10 L519.77 154.10 L520.37 154.10 L520.97 154.10 L521.57 154.10 L522.17 154.10 L522.77 154.10 L523.37 154.10 L523.97 154.10 L524.57 154.10 L525.17 154.10 L525.77 154.10 L526.37 154.10 L526.97 154.10 L527.57 154.10 L528.17 154.10 L528.77 154.10 L529.37 154.10 L529.97 154.10 L530.57 154.10 L531.17 154.10 L531.77 154.10 L532.37 154.10 L532.97 154.10 L533.57 154.10 L534.17 154.10 L534.77 154.10" stroke="#e0261c" stroke-width="2.2" fill="none" stroke-linejoin="round"/>
<circle cx="417.10" cy="57.70" r="1.25" fill="#e0261c"/>
<circle cx="420.14" cy="57.70" r="1.25" fill="#e0261c"/>
<circle cx="423.18" cy="57.70" r="1.25" fill="#e0261c"/>
<circle cx="426.22" cy="57.70" r="1.25" fill="#e0261c"/>
<circle cx="429.26" cy="57.70" r="1.25" fill="#e0261c"/>
<circle cx="432.30" cy="57.70" r="1.25" fill="#e0261c"/>
<circle cx="435.34" cy="57.70" r="1.25" fill="#e0261c"/>
<circle cx="438.38" cy="57.70" r="1.25" fill="#e0261c"/>
<circle cx="441.42" cy="57.70" r="1.25" fill="#e0261c"/>
<circle cx="444.46" cy="57.70" r="1.25" fill="#e0261c"/>
<circle cx="447.50" cy="57.70" r="1.25" fill="#e0261c"/>
<circle cx="450.54" cy="57.70" r="1.25" fill="#e0261c"/>
<circle cx="453.58" cy="57.70" r="1.25" fill="#e0261c"/>
<circle cx="456.62" cy="57.70" r="1.25" fill="#e0261c"/>
<circle cx="459.66" cy="57.70" r="1.25" fill="#e0261c"/>
<circle cx="462.70" cy="57.70" r="1.25" fill="#e0261c"/>
<circle cx="465.74" cy="57.70" r="1.25" fill="#e0261c"/>
<circle cx="468.78" cy="57.70" r="1.25" fill="#e0261c"/>
<circle cx="471.82" cy="57.70" r="1.25" fill="#e0261c"/>
<text x="350.8" y="40.4" font-size="15" text-anchor="end" font-family="Liberation Serif">0.9</text>
<text x="350.8" y="74.6" font-size="15" text-anchor="end" font-family="Liberation Serif">0.8</text>
<text x="350.8" y="105.6" font-size="15" text-anchor="end" font-family="Liberation Serif">0.7</text>
<text x="350.8" y="137.8" font-size="15" text-anchor="end" font-family="Liberation Serif">0.6</text>
<text x="350.8" y="173.4" font-size="15" text-anchor="end" font-family="Liberation Serif">0.5</text>
<text x="539.6" y="46.6" font-size="15" font-family="Liberation Serif">1</text>
<text x="539.4" y="167.6" font-size="15" font-family="Liberation Serif">0</text>
<text transform="translate(329.59999999999997 110.2) rotate(-90) scale(0.85 0.93)" text-anchor="middle" font-size="20" font-family="Liberation Serif">vortex core position</text>
<text transform="translate(543.8 100.4) rotate(90) scale(0.855 0.93)" text-anchor="middle" font-size="20" font-family="Liberation Serif">binary input</text>
<text x="314.2" y="15" font-size="18" font-family="Liberation Serif">(b)</text>
<text x="396.2" y="16.2" font-size="17.6" font-family="Liberation Serif"><tspan font-style="italic">t</tspan><tspan font-size="13" dy="2.0">p</tspan><tspan dy="-2.0">=3.0 μs</tspan></text>
<path d="M413.5 28.3 L423.1 23.0 V33.6 Z M443.5 28.3 L433.9 23.0 V33.6 Z" fill="#000"/>
<path d="M422.5 28.3 H434.5" stroke="#000" stroke-width="2.1"/>
<path d="M352.0 173.45 Q362.0 171.14999999999998 368.9 167.95 L366.0 173.45 L368.9 178.95 Q362.0 175.75 352.0 173.45 Z" fill="#000"/>
<path d="M534.2 173.45 Q524.2 171.14999999999998 517.3000000000001 167.95 L520.2 173.45 L517.3000000000001 178.95 Q524.2 175.75 534.2 173.45 Z" fill="#000"/>
<path d="M364.0 173.45 H522.2" stroke="#000" stroke-width="1.6"/>
<text x="431.0" y="194.1" font-size="20" font-family="Liberation Serif">18 μs</text>
<path d="M72.50 254.70 L92.30 254.70 L112.10 254.70 L131.90 254.70 L151.70 254.70 L171.50 373.00 L191.30 373.00 L211.10 254.70 L230.90 254.70 L250.70 254.70" stroke="#f07866" stroke-width="1.3" fill="none"/>
<circle cx="72.50" cy="254.70" r="3.45" fill="#dc291e"/>
<circle cx="92.30" cy="254.70" r="3.45" fill="#dc291e"/>
<circle cx="112.10" cy="254.70" r="3.45" fill="#dc291e"/>
<circle cx="131.90" cy="254.70" r="3.45" fill="#dc291e"/>
<circle cx="151.70" cy="254.70" r="3.45" fill="#dc291e"/>
<circle cx="171.50" cy="373.00" r="3.45" fill="#dc291e"/>
<circle cx="191.30" cy="373.00" r="3.45" fill="#dc291e"/>
<circle cx="211.10" cy="254.70" r="3.45" fill="#dc291e"/>
<circle cx="230.90" cy="254.70" r="3.45" fill="#dc291e"/>
<circle cx="250.70" cy="254.70" r="3.45" fill="#dc291e"/>
<path d="M72.50 254.70 L92.30 254.70 L112.10 254.70 L131.90 254.70 L151.70 254.70 L171.50 373.00 L191.30 373.00 L211.10 254.70 L230.90 254.70 L250.70 254.70" stroke="#3b2a9e" stroke-width="2" fill="none" stroke-dasharray="5.6 5.7" stroke-dashoffset="2.90"/>
<circle cx="72.50" cy="254.70" r="3.45" fill="#3b2a9e"/>
<circle cx="92.30" cy="254.70" r="3.45" fill="#3b2a9e"/>
<circle cx="112.10" cy="254.70" r="3.45" fill="#3b2a9e"/>
<circle cx="131.90" cy="254.70" r="3.45" fill="#3b2a9e"/>
<circle cx="151.70" cy="254.70" r="3.45" fill="#3b2a9e"/>
<circle cx="171.50" cy="373.00" r="3.45" fill="#3b2a9e"/>
<circle cx="191.30" cy="373.00" r="3.45" fill="#3b2a9e"/>
<circle cx="211.10" cy="254.70" r="3.45" fill="#3b2a9e"/>
<circle cx="230.90" cy="254.70" r="3.45" fill="#3b2a9e"/>
<circle cx="250.70" cy="254.70" r="3.45" fill="#3b2a9e"/>
<path d="M72.5 248.9 H250.7" stroke="#727272" stroke-width="1.7"/>
<path d="M72.0 379.2 H251.2" stroke="#111" stroke-width="1.3" fill="none"/>
<path d="M72.5 248 V379.8 M250.7 248 V379.8" stroke="#111" stroke-width="1.1" fill="none"/>
<path d="M72.5 373.00 h2.3 M250.7 373.00 h-2.3" stroke="#111" stroke-width="1"/>
<path d="M72.5 349.34 h2.3 M250.7 349.34 h-2.3" stroke="#111" stroke-width="1"/>
<path d="M72.5 325.68 h2.3 M250.7 325.68 h-2.3" stroke="#111" stroke-width="1"/>
<path d="M72.5 302.02 h2.3 M250.7 302.02 h-2.3" stroke="#111" stroke-width="1"/>
<path d="M72.5 278.36 h2.3 M250.7 278.36 h-2.3" stroke="#111" stroke-width="1"/>
<path d="M72.5 254.70 h2.3 M250.7 254.70 h-2.3" stroke="#111" stroke-width="1"/>
<path d="M92.30 248.5 v2.3 M92.30 379.2 v-2.3" stroke="#111" stroke-width="1"/>
<path d="M112.10 248.5 v2.3 M112.10 379.2 v-2.3" stroke="#111" stroke-width="1"/>
<path d="M131.90 248.5 v2.3 M131.90 379.2 v-2.3" stroke="#111" stroke-width="1"/>
<path d="M151.70 248.5 v2.3 M151.70 379.2 v-2.3" stroke="#111" stroke-width="1"/>
<path d="M171.50 248.5 v2.3 M171.50 379.2 v-2.3" stroke="#111" stroke-width="1"/>
<path d="M191.30 248.5 v2.3 M191.30 379.2 v-2.3" stroke="#111" stroke-width="1"/>
<path d="M211.10 248.5 v2.3 M211.10 379.2 v-2.3" stroke="#111" stroke-width="1"/>
<path d="M230.90 248.5 v2.3 M230.90 379.2 v-2.3" stroke="#111" stroke-width="1"/>
<text x="67.9" y="255.4" font-size="14" text-anchor="end" font-family="Liberation Serif">1.0</text>
<text x="68.6" y="376.1" font-size="14" text-anchor="end" font-family="Liberation Serif">0</text>
<text x="72.20" y="392.8" font-size="14" text-anchor="middle" font-family="Liberation Serif">1</text>
<text x="93.00" y="392.8" font-size="14" text-anchor="middle" font-family="Liberation Serif">2</text>
<text x="114.00" y="392.8" font-size="14" text-anchor="middle" font-family="Liberation Serif">3</text>
<text x="133.60" y="392.8" font-size="14" text-anchor="middle" font-family="Liberation Serif">4</text>
<text x="153.50" y="392.8" font-size="14" text-anchor="middle" font-family="Liberation Serif">5</text>
<text x="173.50" y="392.8" font-size="14" text-anchor="middle" font-family="Liberation Serif">6</text>
<text x="193.10" y="392.8" font-size="14" text-anchor="middle" font-family="Liberation Serif">7</text>
<text x="213.20" y="392.8" font-size="14" text-anchor="middle" font-family="Liberation Serif">8</text>
<text x="232.70" y="392.8" font-size="14" text-anchor="middle" font-family="Liberation Serif">9</text>
<text x="251.80" y="392.8" font-size="14" text-anchor="middle" font-family="Liberation Serif">10</text>
<text x="159.8" y="408.9" font-size="20" text-anchor="middle" font-family="Liberation Serif">data number</text>
<text x="106.0" y="368.2" font-size="14" font-family="Liberation Serif"><tspan font-style="italic">D</tspan>=1</text>
<path d="M285.50 294.79 L305.33 307.66 L325.16 329.28 L344.99 332.23 L364.82 303.53 L384.65 269.87 L404.48 376.63 L424.31 332.82 L444.14 300.70 L463.97 314.63" stroke="#3b2a9e" stroke-width="2" fill="none" stroke-dasharray="6.0 5.9" stroke-dashoffset="2.34"/>
<circle cx="285.50" cy="294.79" r="3.45" fill="#3b2a9e"/>
<circle cx="305.33" cy="307.66" r="3.45" fill="#3b2a9e"/>
<circle cx="325.16" cy="329.28" r="3.45" fill="#3b2a9e"/>
<circle cx="344.99" cy="332.23" r="3.45" fill="#3b2a9e"/>
<circle cx="364.82" cy="303.53" r="3.45" fill="#3b2a9e"/>
<circle cx="384.65" cy="269.87" r="3.45" fill="#3b2a9e"/>
<circle cx="404.48" cy="376.63" r="3.45" fill="#3b2a9e"/>
<circle cx="424.31" cy="332.82" r="3.45" fill="#3b2a9e"/>
<circle cx="444.14" cy="300.70" r="3.45" fill="#3b2a9e"/>
<circle cx="463.97" cy="314.63" r="3.45" fill="#3b2a9e"/>
<path d="M285.50 372.50 L305.33 254.40 L325.16 254.40 L344.99 254.40 L364.82 254.40 L384.65 254.40 L404.48 372.50 L424.31 372.50 L444.14 254.40 L463.97 254.40" stroke="#e8301f" stroke-width="1.1" fill="none"/>
<circle cx="285.50" cy="372.50" r="3.45" fill="#dc291e"/>
<circle cx="305.33" cy="254.40" r="3.45" fill="#dc291e"/>
<circle cx="325.16" cy="254.40" r="3.45" fill="#dc291e"/>
<circle cx="344.99" cy="254.40" r="3.45" fill="#dc291e"/>
<circle cx="364.82" cy="254.40" r="3.45" fill="#dc291e"/>
<circle cx="384.65" cy="254.40" r="3.45" fill="#dc291e"/>
<circle cx="404.48" cy="372.50" r="3.45" fill="#dc291e"/>
<circle cx="424.31" cy="372.50" r="3.45" fill="#dc291e"/>
<circle cx="444.14" cy="254.40" r="3.45" fill="#dc291e"/>
<circle cx="463.97" cy="254.40" r="3.45" fill="#dc291e"/>
<path d="M285.5 248.5 H464.0" stroke="#111" stroke-width="1.1"/>
<path d="M285.0 378.3 H464.5" stroke="#111" stroke-width="1.3" fill="none"/>
<path d="M285.5 248 V378.90000000000003 M464.0 248 V378.90000000000003" stroke="#111" stroke-width="1.1" fill="none"/>
<path d="M285.5 372.50 h2.3 M464.0 372.50 h-2.3" stroke="#111" stroke-width="1"/>
<path d="M285.5 348.88 h2.3 M464.0 348.88 h-2.3" stroke="#111" stroke-width="1"/>
<path d="M285.5 325.26 h2.3 M464.0 325.26 h-2.3" stroke="#111" stroke-width="1"/>
<path d="M285.5 301.64 h2.3 M464.0 301.64 h-2.3" stroke="#111" stroke-width="1"/>
<path d="M285.5 278.02 h2.3 M464.0 278.02 h-2.3" stroke="#111" stroke-width="1"/>
<path d="M285.5 254.40 h2.3 M464.0 254.40 h-2.3" stroke="#111" stroke-width="1"/>
<path d="M305.33 248.5 v2.3 M305.33 378.3 v-2.3" stroke="#111" stroke-width="1"/>
<path d="M325.16 248.5 v2.3 M325.16 378.3 v-2.3" stroke="#111" stroke-width="1"/>
<path d="M344.99 248.5 v2.3 M344.99 378.3 v-2.3" stroke="#111" stroke-width="1"/>
<path d="M364.82 248.5 v2.3 M364.82 378.3 v-2.3" stroke="#111" stroke-width="1"/>
<path d="M384.65 248.5 v2.3 M384.65 378.3 v-2.3" stroke="#111" stroke-width="1"/>
<path d="M404.48 248.5 v2.3 M404.48 378.3 v-2.3" stroke="#111" stroke-width="1"/>
<path d="M424.31 248.5 v2.3 M424.31 378.3 v-2.3" stroke="#111" stroke-width="1"/>
<path d="M444.14 248.5 v2.3 M444.14 378.3 v-2.3" stroke="#111" stroke-width="1"/>
<text x="280.9" y="255.4" font-size="14" text-anchor="end" font-family="Liberation Serif">1.0</text>
<text x="281.6" y="376.1" font-size="14" text-anchor="end" font-family="Liberation Serif">0</text>
<text x="285.20" y="392.8" font-size="14" text-anchor="middle" font-family="Liberation Serif">1</text>
<text x="306.03" y="392.8" font-size="14" text-anchor="middle" font-family="Liberation Serif">2</text>
<text x="327.06" y="392.8" font-size="14" text-anchor="middle" font-family="Liberation Serif">3</text>
<text x="346.69" y="392.8" font-size="14" text-anchor="middle" font-family="Liberation Serif">4</text>
<text x="366.62" y="392.8" font-size="14" text-anchor="middle" font-family="Liberation Serif">5</text>
<text x="386.65" y="392.8" font-size="14" text-anchor="middle" font-family="Liberation Serif">6</text>
<text x="406.28" y="392.8" font-size="14" text-anchor="middle" font-family="Liberation Serif">7</text>
<text x="426.41" y="392.8" font-size="14" text-anchor="middle" font-family="Liberation Serif">8</text>
<text x="445.94" y="392.8" font-size="14" text-anchor="middle" font-family="Liberation Serif">9</text>
<text x="465.07" y="392.8" font-size="14" text-anchor="middle" font-family="Liberation Serif">10</text>
<text x="373.8" y="408.9" font-size="20" text-anchor="middle" font-family="Liberation Serif">data number</text>
<text x="319.5" y="368.2" font-size="14" font-family="Liberation Serif"><tspan font-style="italic">D</tspan>=2</text>
<path d="M498.40 291.84 L518.25 272.12 L538.10 314.99 L557.95 285.11 L577.80 306.36 L597.65 287.82 L617.50 289.59 L637.35 293.37 L657.20 294.79 L677.05 269.04" stroke="#3b2a9e" stroke-width="2" fill="none" stroke-dasharray="6.1 5.8" stroke-dashoffset="2.17"/>
<circle cx="498.40" cy="291.84" r="3.45" fill="#3b2a9e"/>
<circle cx="518.25" cy="272.12" r="3.45" fill="#3b2a9e"/>
<circle cx="538.10" cy="314.99" r="3.45" fill="#3b2a9e"/>
<circle cx="557.95" cy="285.11" r="3.45" fill="#3b2a9e"/>
<circle cx="577.80" cy="306.36" r="3.45" fill="#3b2a9e"/>
<circle cx="597.65" cy="287.82" r="3.45" fill="#3b2a9e"/>
<circle cx="617.50" cy="289.59" r="3.45" fill="#3b2a9e"/>
<circle cx="637.35" cy="293.37" r="3.45" fill="#3b2a9e"/>
<circle cx="657.20" cy="294.79" r="3.45" fill="#3b2a9e"/>
<circle cx="677.05" cy="269.04" r="3.45" fill="#3b2a9e"/>
<path d="M498.40 372.50 L518.25 372.50 L538.10 254.40 L557.95 254.40 L577.80 254.40 L597.65 254.40 L617.50 254.40 L637.35 372.50 L657.20 372.50 L677.05 254.40" stroke="#e8301f" stroke-width="1.1" fill="none"/>
<circle cx="498.40" cy="372.50" r="3.45" fill="#dc291e"/>
<circle cx="518.25" cy="372.50" r="3.45" fill="#dc291e"/>
<circle cx="538.10" cy="254.40" r="3.45" fill="#dc291e"/>
<circle cx="557.95" cy="254.40" r="3.45" fill="#dc291e"/>
<circle cx="577.80" cy="254.40" r="3.45" fill="#dc291e"/>
<circle cx="597.65" cy="254.40" r="3.45" fill="#dc291e"/>
<circle cx="617.50" cy="254.40" r="3.45" fill="#dc291e"/>
<circle cx="637.35" cy="372.50" r="3.45" fill="#dc291e"/>
<circle cx="657.20" cy="372.50" r="3.45" fill="#dc291e"/>
<circle cx="677.05" cy="254.40" r="3.45" fill="#dc291e"/>
<path d="M498.4 248.5 H677.2" stroke="#111" stroke-width="1.1"/>
<path d="M497.9 378.3 H677.7" stroke="#111" stroke-width="1.3" fill="none"/>
<path d="M498.4 248 V378.90000000000003 M677.2 248 V378.90000000000003" stroke="#111" stroke-width="1.1" fill="none"/>
<path d="M498.4 372.50 h2.3 M677.2 372.50 h-2.3" stroke="#111" stroke-width="1"/>
<path d="M498.4 348.88 h2.3 M677.2 348.88 h-2.3" stroke="#111" stroke-width="1"/>
<path d="M498.4 325.26 h2.3 M677.2 325.26 h-2.3" stroke="#111" stroke-width="1"/>
<path d="M498.4 301.64 h2.3 M677.2 301.64 h-2.3" stroke="#111" stroke-width="1"/>
<path d="M498.4 278.02 h2.3 M677.2 278.02 h-2.3" stroke="#111" stroke-width="1"/>
<path d="M498.4 254.40 h2.3 M677.2 254.40 h-2.3" stroke="#111" stroke-width="1"/>
<path d="M518.25 248.5 v2.3 M518.25 378.3 v-2.3" stroke="#111" stroke-width="1"/>
<path d="M538.10 248.5 v2.3 M538.10 378.3 v-2.3" stroke="#111" stroke-width="1"/>
<path d="M557.95 248.5 v2.3 M557.95 378.3 v-2.3" stroke="#111" stroke-width="1"/>
<path d="M577.80 248.5 v2.3 M577.80 378.3 v-2.3" stroke="#111" stroke-width="1"/>
<path d="M597.65 248.5 v2.3 M597.65 378.3 v-2.3" stroke="#111" stroke-width="1"/>
<path d="M617.50 248.5 v2.3 M617.50 378.3 v-2.3" stroke="#111" stroke-width="1"/>
<path d="M637.35 248.5 v2.3 M637.35 378.3 v-2.3" stroke="#111" stroke-width="1"/>
<path d="M657.20 248.5 v2.3 M657.20 378.3 v-2.3" stroke="#111" stroke-width="1"/>
<text x="493.8" y="255.4" font-size="14" text-anchor="end" font-family="Liberation Serif">1.0</text>
<text x="494.5" y="376.1" font-size="14" text-anchor="end" font-family="Liberation Serif">0</text>
<text x="498.10" y="392.8" font-size="14" text-anchor="middle" font-family="Liberation Serif">1</text>
<text x="518.95" y="392.8" font-size="14" text-anchor="middle" font-family="Liberation Serif">2</text>
<text x="540.00" y="392.8" font-size="14" text-anchor="middle" font-family="Liberation Serif">3</text>
<text x="559.65" y="392.8" font-size="14" text-anchor="middle" font-family="Liberation Serif">4</text>
<text x="579.60" y="392.8" font-size="14" text-anchor="middle" font-family="Liberation Serif">5</text>
<text x="599.65" y="392.8" font-size="14" text-anchor="middle" font-family="Liberation Serif">6</text>
<text x="619.30" y="392.8" font-size="14" text-anchor="middle" font-family="Liberation Serif">7</text>
<text x="639.45" y="392.8" font-size="14" text-anchor="middle" font-family="Liberation Serif">8</text>
<text x="659.00" y="392.8" font-size="14" text-anchor="middle" font-family="Liberation Serif">9</text>
<text x="678.15" y="392.8" font-size="14" text-anchor="middle" font-family="Liberation Serif">10</text>
<text x="587.1" y="408.9" font-size="20" text-anchor="middle" font-family="Liberation Serif">data number</text>
<text x="532.0" y="368.2" font-size="14" font-family="Liberation Serif"><tspan font-style="italic">D</tspan>=3</text>
<text x="2.0" y="228.5" font-size="18" font-family="Liberation Serif">(c)</text>
<text transform="translate(16.6 431.5) rotate(-90) scale(0.992 1)" font-size="20" font-family="Liberation Serif">target and system output</text>
<text transform="translate(39.2 415.5) rotate(-90) scale(0.99 1)" font-size="20" font-family="Liberation Serif">of short-term memory</text>
</svg>
</body></html>
